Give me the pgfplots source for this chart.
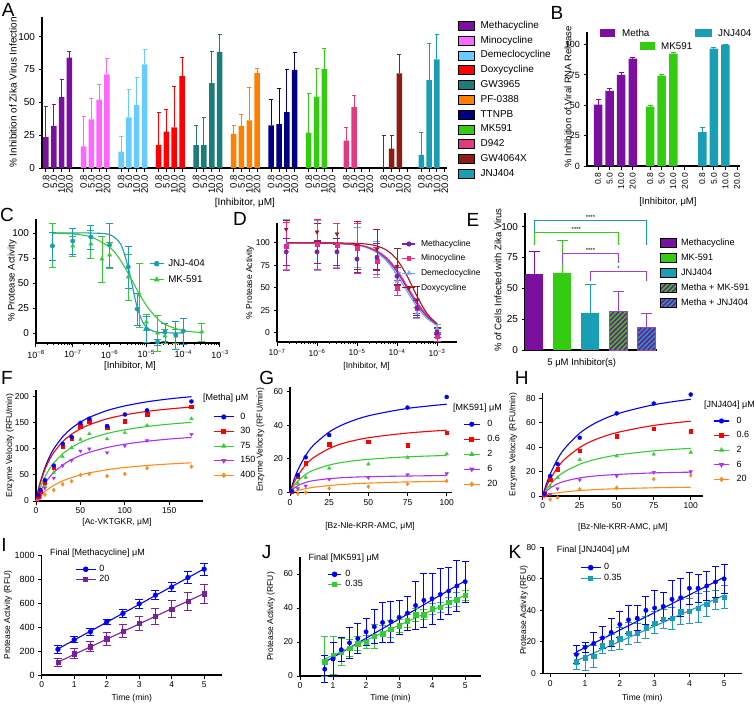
\documentclass[border=0pt]{standalone}
\usepackage{pgfplots}
\pgfplotsset{compat=1.18}
\usepackage{fontspec}
\setmainfont{Liberation Sans}
\usetikzlibrary{patterns.meta}

\definecolor{cMeth}{HTML}{7B0F9F}
\definecolor{cMino}{HTML}{FF66FF}
\definecolor{cDeme}{HTML}{66CCFF}
\definecolor{cDoxy}{HTML}{FF0000}
\definecolor{cGW}{HTML}{1B7C7C}
\definecolor{cPF}{HTML}{FF8000}
\definecolor{cTT}{HTML}{000080}
\definecolor{cMK}{HTML}{33CC11}
\definecolor{cDN}{HTML}{E23A7E}
\definecolor{cGX}{HTML}{8E1B14}
\definecolor{cJNJ}{HTML}{1A9EB5}
\definecolor{dMeth}{HTML}{7D22A8}
\definecolor{dMino}{HTML}{F0288C}
\definecolor{dDeme}{HTML}{66AAFF}
\definecolor{dDoxy}{HTML}{A8151B}
\definecolor{cMKc}{HTML}{33CC33}
\definecolor{fB}{HTML}{0000FF}
\definecolor{fR}{HTML}{FF0000}
\definecolor{fG}{HTML}{33CC33}
\definecolor{fP}{HTML}{B030F0}
\definecolor{fO}{HTML}{FF8C1A}
\definecolor{iP}{HTML}{7A1FA0}
\definecolor{hB}{HTML}{A040D0}

\newcommand\fs[1]{\fontsize{#1}{#1}\selectfont}
\newcommand\tf{\fontsize{8.5}{9}\selectfont}
\newcommand\lf{\fontsize{8.5}{10}\selectfont}
\newcommand\gf{\fontsize{10}{11}\selectfont}
\newcommand\pf{\fontsize{19}{20}\selectfont}

\pgfplotsset{
  gp/.style={scale only axis, axis lines=left, axis line style={-,line width=1.1pt},
    tick align=outside, major tick length=3.5pt, minor tick length=2pt,
    every tick/.append style={line width=1pt, black},
    tick label style={font=\tf},
    /pgf/number format/assume math mode=true,
    /pgf/number format/1000 sep={},
    enlargelimits=false, clip=false,
    label style={font=\lf},
    xlabel style={anchor=center}, ylabel style={anchor=center},
    legend style={draw=none, fill=none, inner sep=0pt, font=\lf,
      nodes={inner sep=0pt, text height=6pt, text depth=1.5pt}},
    legend cell align=left},
  barleg/.style 2 args={legend image code/.code={\path[##1] (0pt,-#2/2) rectangle (#1,#2/2);}},
  ll/.style={legend image code/.code={\draw[##1,mark repeat=2,mark phase=2] plot coordinates {(0pt,0pt) (#1/2,0pt) (#1,0pt)};}},
  abar/.style={ybar, bar width=5.5pt, bar shift=0pt, fill=#1, draw=none, forget plot,
    error bars/.cd, y dir=plus, y explicit, error bar style={#1, line width=1pt},
    error mark options={rotate=90, #1, mark size=2pt, line width=1pt}},
  bbar/.style={ybar, bar width=8.5pt, bar shift=0pt, fill=#1, draw=none, forget plot,
    error bars/.cd, y dir=plus, y explicit, error bar style={#1, line width=1pt},
    error mark options={rotate=90, #1, mark size=2.5pt, line width=1pt}},
  sc/.style 2 args={only marks, color=#1, forget plot, error bars/.cd, y dir=both, y explicit,
    error bar style={#1, line width=0.9pt},
    error mark options={rotate=90, #1, mark size=#2, line width=0.9pt}},
  cv/.style={color=#1, line width=1.1pt, smooth, no markers, forget plot},
}

\begin{document}
\begin{tikzpicture}
\useasboundingbox (0pt,0pt) rectangle (754pt,-707pt);

% ---------------- A ----------------
\begin{axis}[gp, at={(42pt,-168pt)}, anchor=south west, width=405pt, height=151pt,
  xmin=-0.51, xmax=51.28, ymin=0, ymax=115, ytick={0,25,50,75,100},
  xtick={0,1,2,3,4.8,5.8,6.8,7.8,9.6,10.6,11.6,12.6,14.4,15.4,16.4,17.4,19.2,20.2,21.2,22.2,24,25,26,27,28.8,29.8,30.8,31.8,33.6,34.6,35.6,36.6,38.4,39.4,40.4,41.4,43.2,44.2,45.2,46.2,48,49,50,51},
  xticklabels={0.8,5.0,10.0,20.0,0.8,5.0,10.0,20.0,0.8,5.0,10.0,20.0,0.8,5.0,10.0,20.0,0.8,5.0,10.0,20.0,0.8,5.0,10.0,20.0,0.8,5.0,10.0,20.0,0.8,5.0,10.0,20.0,0.8,5.0,10.0,20.0,0.8,5.0,10.0,20.0,0.8,5.0,10.0,20.0},
  yticklabel style={font=\fs{10}},
  xticklabel style={rotate=90, anchor=east, font=\fs{9.5}},
  label style={font=\fs{10}},
  ylabel={\% Inhibition of Zika Virus Infection}, ylabel style={at={(axis description cs:-0.0716,0.5)}},
  xlabel={[Inhibitor, μM]}, xlabel style={at={(axis description cs:0.501,-0.232)}},
  legend style={at={(axis description cs:1.0272,0.9755)}, anchor=north west, font=\gf, row sep=5.4pt,
    nodes={text height=7.3pt, text depth=2pt}, /tikz/every odd column/.append style={column sep=6pt}},
]
\addplot[abar=cMeth] coordinates {(0,23.5) +- (0,23.5) (1,32) +- (0,16) (2,54) +- (0,13.5) (3,84) +- (0,4.5)};
\addplot[abar=cMino] coordinates {(4.8,16.5) +- (0,23) (5.8,37) +- (0,15.7) (6.8,52) +- (0,11.8) (7.8,71.4) +- (0,11.9)};
\addplot[abar=cDeme] coordinates {(9.6,12.4) +- (0,11.6) (10.6,38.5) +- (0,21) (11.6,48) +- (0,21) (12.6,79) +- (0,11.4)};
\addplot[abar=cDoxy] coordinates {(14.4,17.5) +- (0,24.5) (15.4,27.8) +- (0,16.8) (16.4,31) +- (0,30.8) (17.4,70) +- (0,13.8)};
\addplot[abar=cGW] coordinates {(19.2,17.5) +- (0,15.2) (20.2,17.5) +- (0,21.2) (21.2,64.6) +- (0,24) (22.2,88.4) +- (0,13.4)};
\addplot[abar=cPF] coordinates {(24,26) +- (0,6.7) (25,32) +- (0,8.8) (26,36.2) +- (0,25.3) (27,72.4) +- (0,3.6)};
\addplot[abar=cTT] coordinates {(28.8,32.4) +- (0,19.6) (29.8,33.4) +- (0,27.1) (30.8,42.5) +- (0,32.2) (31.8,74.7) +- (0,13.3)};
\addplot[abar=cMK] coordinates {(33.6,27) +- (0,30) (34.6,54.4) +- (0,21.1) (35.6,75.4) +- (0,15.6)};
\addplot[abar=cDN] coordinates {(38.4,20.8) +- (0,10.2) (39.4,46.3) +- (0,9.1)};
\addplot[abar=cGX] coordinates {(43.2,0) +- (0,24.5) (44.2,14.7) +- (0,9.8) (45.2,72) +- (0,14.6)};
\addplot[abar=cJNJ] coordinates {(48,10) +- (0,17.3) (49,67) +- (0,28) (50,82.8) +- (0,19.2)};
\addlegendimage{barleg={16pt}{9pt}, fill=cMeth}\addlegendentry{Methacycline}
\addlegendimage{barleg={16pt}{9pt}, fill=cMino}\addlegendentry{Minocycline}
\addlegendimage{barleg={16pt}{9pt}, fill=cDeme}\addlegendentry{Demeclocycline}
\addlegendimage{barleg={16pt}{9pt}, fill=cDoxy}\addlegendentry{Doxycycline}
\addlegendimage{barleg={16pt}{9pt}, fill=cGW}\addlegendentry{GW3965}
\addlegendimage{barleg={16pt}{9pt}, fill=cPF}\addlegendentry{PF-0388}
\addlegendimage{barleg={16pt}{9pt}, fill=cTT}\addlegendentry{TTNPB}
\addlegendimage{barleg={16pt}{9pt}, fill=cMK}\addlegendentry{MK591}
\addlegendimage{barleg={16pt}{9pt}, fill=cDN}\addlegendentry{D942}
\addlegendimage{barleg={16pt}{9pt}, fill=cGX}\addlegendentry{GW4064X}
\addlegendimage{barleg={16pt}{9pt}, fill=cJNJ}\addlegendentry{JNJ404}
\end{axis}

% ---------------- B ----------------
\begin{axis}[gp, at={(587pt,-166pt)}, anchor=south west, width=153pt, height=134pt,
  xmin=-0.95, xmax=12.26, ymin=0, ymax=110.4, ytick={0,25,50,75,100},
  xtick={0,1,2,3,4.5,5.5,6.5,7.5,9,10,11,12},
  xticklabels={0.8,5.0,10.0,20.0,0.8,5.0,10.0,20.0,0.8,5.0,10.0,20.0},
  yticklabel style={font=\fs{9}},
  xticklabel style={rotate=90, anchor=east, font=\fs{8.5}},
  label style={font=\fs{9.5}},
  ylabel={\% Inhibition of Viral RNA Release}, ylabel style={at={(axis description cs:-0.124,0.515)}},
  xlabel={[Inhibitor, μM]}, xlabel style={at={(axis description cs:0.529,-0.266)}},
]
\addplot[bbar=cMeth] coordinates {(0,50.5) +- (0,4.2) (1,61.8) +- (0,1.9) (2,75) +- (0,2.2) (3,88.5) +- (0,0.8)};
\addplot[bbar=cMK] coordinates {(4.5,49) +- (0,0.5) (5.5,74.5) +- (0,1) (6.5,92.6) +- (0,0.8)};
\addplot[bbar=cJNJ] coordinates {(9,28) +- (0,4) (10,96.7) +- (0,0.8) (11,100) +- (0,0.5)};
\end{axis}
\node[anchor=base west, font=\fs{9.8}, inner sep=0pt] at (600pt,-36pt) {\textcolor{cMeth}{\rule[-0.5pt]{15pt}{8pt}}\hspace{7pt}Metha};
\node[anchor=base west, font=\fs{9.8}, inner sep=0pt] at (640pt,-49.5pt) {\textcolor{cMK}{\rule[-0.5pt]{15pt}{8pt}}\hspace{6pt}MK591};
\node[anchor=base west, font=\fs{9.8}, inner sep=0pt] at (695pt,-36.5pt) {\textcolor{cJNJ}{\rule[-0.5pt]{17pt}{8pt}}\hspace{6pt}JNJ404};

% ---------------- C ----------------
\begin{axis}[gp, at={(36pt,-343pt)}, anchor=south west, width=184pt, height=124pt,
  xmode=log, xmin=1e-8, xmax=1e-3, ymin=-10, ymax=114, ytick={0,25,50,75,100},
  xtick={1e-8,1e-7,1e-6,1e-5,1e-4,1e-3},
  xticklabels={10\textsuperscript{−8},10\textsuperscript{−7},10\textsuperscript{−6},10\textsuperscript{−5},10\textsuperscript{−4},10\textsuperscript{−3}},
  yticklabel style={font=\fs{10}}, xticklabel style={font=\fs{9}},
  label style={font=\fs{9.5}},
  ylabel={\% Protease Activity}, ylabel style={at={(axis description cs:-0.13,0.5)}},
  xlabel={[Inhibitor, M]}, xlabel style={at={(axis description cs:0.511,-0.185)}},
  legend style={at={(axis description cs:0.614,0.677)}, anchor=north west, row sep=7.1pt, font=\fs{9.8},
    nodes={text height=7pt, text depth=1.9pt},
    /tikz/every odd column/.append style={column sep=4pt}},
]
\addplot[cv=cJNJ] coordinates {(2.8e-8,100) (1e-7,100) (3e-7,100) (1e-6,98.4) (2e-6,88.8) (3.16e-6,66.6) (4e-6,50) (5e-6,33) (6.3e-6,20) (7.9e-6,11.2) (1e-5,5.9) (1.6e-5,1.6) (3.16e-5,0.2) (1e-4,0)};
\addplot[cv=cMKc] coordinates {(2.8e-8,99.7) (1e-7,99) (3.16e-7,96) (1e-6,85.8) (1.8e-6,75) (3.16e-6,60) (5.6e-6,43) (1e-5,27.5) (1.8e-5,16) (3.16e-5,8.7) (1e-4,2.3) (3.16e-4,0.6)};
\addplot[mark=triangle*, mark size=2.4pt, sc={cMKc}{3.5pt}] coordinates {(2.8e-8,88) +- (0,22) (1e-7,87) +- (0,10) (3.1e-7,89) +- (0,14) (6.2e-7,74) +- (0,23) (1e-6,78) +- (0,13) (3.2e-6,56) +- (0,23) (6.3e-6,38) +- (0,32) (1e-5,11) +- (0,8) (2e-5,0) +- (0,18) (3.2e-5,-3) +- (0,7) (6.3e-5,-3) +- (0,7) (3.2e-4,1) +- (0,9)};
\addplot[mark=*, mark size=2.2pt, sc={cJNJ}{3.5pt}] coordinates {(2.8e-8,87) +- (0,14) (1e-7,92) +- (0,13) (3.1e-7,96) +- (0,12) (1e-6,88) +- (0,22) (3.2e-6,66) +- (0,21) (5.6e-6,24) +- (0,16) (1e-5,4) +- (0,13) (2e-5,-9) +- (0,3) (3.2e-5,1) +- (0,9) (6.3e-5,-2) +- (0,14) (1e-4,2) +- (0,13)};
\addlegendimage{ll=14pt, color=cJNJ, mark=*, mark size=2.2pt, line width=1.1pt}\addlegendentry{JNJ-404}
\addlegendimage{ll=14pt, color=cMKc, mark=triangle*, mark size=2.4pt, line width=1.1pt}\addlegendentry{MK-591}
\end{axis}

% ---------------- D ----------------
\begin{axis}[gp, at={(277pt,-342pt)}, anchor=south west, width=180pt, height=119pt,
  xmode=log, xmin=1e-7, xmax=3.162e-3, ymin=-10, ymax=122, ytick={0,25,50,75,100},
  xtick={1e-7,1e-6,1e-5,1e-4,1e-3},
  xticklabels={10\textsuperscript{−7},10\textsuperscript{−6},10\textsuperscript{−5},10\textsuperscript{−4},10\textsuperscript{−3}},
  ylabel={\% Protease Activity}, ylabel style={at={(axis description cs:-0.15,0.5)}},
  xlabel={[Inhibitor, M]}, xlabel style={at={(axis description cs:0.498,-0.2)}},
  legend style={at={(axis description cs:0.693,0.857)}, anchor=north west, row sep=7.1pt,
    /tikz/every odd column/.append style={column sep=5pt}},
]
\addplot[cv=dDeme] coordinates {(1.78e-7,100) (1e-6,99.9) (3.16e-6,99.4) (1e-5,97.3) (1.78e-5,94.5) (3.16e-5,89) (5.62e-5,79.4) (1e-4,64.5) (1.78e-4,46.3) (3.16e-4,29) (5.62e-4,16.2) (1e-3,8.4)};
\addplot[cv=dMeth] coordinates {(1.78e-7,100) (1e-6,99.9) (3.16e-6,99.5) (1e-5,97.7) (1.78e-5,95.3) (3.16e-5,90.4) (5.62e-5,81.7) (1e-4,67.9) (1.78e-4,50) (3.16e-4,32.1) (5.62e-4,18.3) (1e-3,9.6)};
\addplot[cv=dMino] coordinates {(1.78e-7,100) (1e-6,99.9) (3.16e-6,99.5) (1e-5,97.9) (1.78e-5,95.6) (3.16e-5,91.1) (5.62e-5,83) (1e-4,70) (1.78e-4,52.2) (3.16e-4,34.2) (5.62e-4,19.7) (1e-3,10.5)};
\addplot[cv=dDoxy] coordinates {(1.78e-7,100) (1e-6,100) (3.16e-6,99.9) (1e-5,99.4) (1.78e-5,98.6) (3.16e-5,96.5) (5.62e-5,91.6) (1e-4,81.4) (1.78e-4,63.5) (3.16e-4,40.9) (5.62e-4,21.6) (1e-3,9.9)};
\addplot[mark=triangle*, mark size=2.2pt, sc={dDeme}{3.5pt}] coordinates {(1.7e-7,98) +- (0,28) (1e-6,97) +- (0,28) (3.16e-6,97) +- (0,24) (1e-5,95) +- (0,22) (3.16e-5,82) +- (0,20) (1e-4,57) +- (0,10) (3.16e-4,22) +- (0,6) (1e-3,5) +- (0,5)};
\addplot[mark=triangle*, mark size=2.2pt, mark options={rotate=180}, sc={dDoxy}{3.5pt}] coordinates {(1.7e-7,115) +- (0,10) (1e-6,112) +- (0,10) (3.16e-6,110) +- (0,12) (1e-5,97) +- (0,27) (3.16e-5,93) +- (0,22) (1e-4,74) +- (0,20) (3.16e-4,37) +- (0,15) (1e-3,2) +- (0,4)};
\addplot[mark=square*, mark size=2pt, sc={dMino}{3.5pt}] coordinates {(1.7e-7,96) +- (0,27) (1e-6,98) +- (0,28) (3.16e-6,97) +- (0,25) (1e-5,94) +- (0,28) (3.16e-5,80) +- (0,15) (1e-4,50) +- (0,8) (3.16e-4,27) +- (0,10) (1e-3,-4) +- (0,5)};
\addplot[mark=*, mark size=2.2pt, sc={dMeth}{3.5pt}] coordinates {(1.7e-7,90) +- (0,15) (1e-6,90) +- (0,13) (3.16e-6,90) +- (0,15) (1e-5,82) +- (0,15) (3.16e-5,84) +- (0,15) (1e-4,63) +- (0,10) (3.16e-4,28) +- (0,8) (1e-3,0) +- (0,5)};
\addlegendimage{ll=13pt, color=dMeth, mark=*, mark size=2pt, line width=1.1pt}\addlegendentry{Methacycline}
\addlegendimage{ll=13pt, color=dMino, mark=square*, mark size=1.8pt, line width=1.1pt}\addlegendentry{Minocycline}
\addlegendimage{ll=13pt, color=dDeme, mark=triangle*, mark size=2pt, line width=1.1pt}\addlegendentry{Demeclocycline}
\addlegendimage{ll=13pt, color=dDoxy, mark=triangle*, mark size=2pt, mark options={rotate=180}, line width=1.1pt}\addlegendentry{Doxycycline}
\end{axis}

% ---------------- E ----------------
\begin{axis}[gp, at={(525pt,-350pt)}, anchor=south west, width=132pt, height=137pt,
  xmin=0.67, xmax=5.37, ymin=0, ymax=111, ytick={0,25,50,75,100}, xtick=\empty,
  yticklabel style={font=\fs{10}}, label style={font=\fs{9.5}},
  ylabel={\% of Cells Infected with Zika Virus}, ylabel style={at={(axis description cs:-0.205,0.51)}},
  xlabel={5 μM Inhibitor(s)}, xlabel style={at={(axis description cs:0.43,-0.093)}},
  legend style={at={(axis description cs:1.022,0.817)}, anchor=north west, font=\fs{9.2}, row sep=5.6pt,
    nodes={text height=7pt, text depth=2pt}, /tikz/every odd column/.append style={column sep=4.5pt}},
]
\addplot[ybar, bar width=18pt, bar shift=0pt, fill=cMeth, draw=none, forget plot,
  error bars/.cd, y dir=plus, y explicit, error bar style={cMeth, line width=1pt},
  error mark options={rotate=90, cMeth, mark size=5.5pt, line width=1pt}] coordinates {(1,61.5) +- (0,18.5)};
\addplot[ybar, bar width=18pt, bar shift=0pt, fill=cMK, draw=none, forget plot,
  error bars/.cd, y dir=plus, y explicit, error bar style={cMK, line width=1pt},
  error mark options={rotate=90, cMK, mark size=5.5pt, line width=1pt}] coordinates {(2,62) +- (0,26.5)};
\addplot[ybar, bar width=18pt, bar shift=0pt, fill=cJNJ, draw=none, forget plot,
  error bars/.cd, y dir=plus, y explicit, error bar style={cJNJ, line width=1pt},
  error mark options={rotate=90, cJNJ, mark size=5.5pt, line width=1pt}] coordinates {(3,30) +- (0,23)};
\addplot[ybar, bar width=18pt, bar shift=0pt, fill=cMeth, draw=hB, line width=1pt,
  postaction={pattern={Lines[angle=45,distance=3.4pt,line width=1.6pt]}, pattern color=cMK}, forget plot,
  error bars/.cd, y dir=plus, y explicit, error bar style={hB, line width=1pt},
  error mark options={rotate=90, hB, mark size=5.5pt, line width=1pt}] coordinates {(4,31) +- (0,16)};
\addplot[ybar, bar width=18pt, bar shift=0pt, fill=cMeth, draw=hB, line width=1pt,
  postaction={pattern={Lines[angle=45,distance=3.4pt,line width=1.6pt]}, pattern color=cJNJ}, forget plot,
  error bars/.cd, y dir=plus, y explicit, error bar style={hB, line width=1pt},
  error mark options={rotate=90, hB, mark size=5.5pt, line width=1pt}] coordinates {(5,18) +- (0,11.5)};
\addplot[cJNJ, line width=1.2pt, forget plot] coordinates {(1,85.2) (1,104.9) (5,104.9) (5,85.2)};
\addplot[cMK, line width=1.2pt, forget plot] coordinates {(1,85.2) (1,95.1) (4,95.1) (4,85.2)};
\addplot[hB, line width=1.2pt, forget plot] coordinates {(2,70.8) (2,78.4) (4,78.4) (4,70.8)};
\addplot[hB, line width=1.2pt, forget plot] coordinates {(3,56.2) (3,63.3) (5,63.3) (5,56.2)};
\node[font=\fontsize{6}{6}\selectfont, anchor=south, inner sep=1pt] at (axis cs:3,104.9) {****};
\node[font=\fontsize{6}{6}\selectfont, anchor=south, inner sep=1pt] at (axis cs:2.5,95.1) {****};
\node[font=\fontsize{6}{6}\selectfont, anchor=south, inner sep=1pt] at (axis cs:3,78.4) {****};
\node[font=\fontsize{6}{6}\selectfont, anchor=south, inner sep=1pt] at (axis cs:4,63.3) {*};
\addlegendimage{barleg={16pt}{9pt}, fill=cMeth}\addlegendentry{Methacycline}
\addlegendimage{barleg={16pt}{9pt}, fill=cMK}\addlegendentry{MK-591}
\addlegendimage{barleg={16pt}{9pt}, fill=cJNJ}\addlegendentry{JNJ404}
\addlegendimage{barleg={16pt}{9pt}, fill=cMeth, postaction={pattern={Lines[angle=45,distance=3.4pt,line width=1.6pt]}, pattern color=cMK}}\addlegendentry{Metha + MK-591}
\addlegendimage{barleg={16pt}{9pt}, fill=cMeth, postaction={pattern={Lines[angle=45,distance=3.4pt,line width=1.6pt]}, pattern color=cJNJ}}\addlegendentry{Metha + JNJ404}
\end{axis}

% ---------------- F ----------------
\begin{axis}[gp, at={(36pt,-501pt)}, anchor=south west, width=167pt, height=111pt,
  xmin=0, xmax=188, ymin=0, ymax=213, ytick={0,50,100,150,200}, xtick={0,50,100,150},
  ylabel={Enzyme Velocity (RFU/min)}, ylabel style={at={(axis description cs:-0.156,0.5)}},
  xlabel={[Ac-VKTGKR, μM]}, xlabel style={at={(axis description cs:0.485,-0.195)}},
  legend style={at={(axis description cs:1.06,0.793)}, anchor=north west, row sep=7.1pt, font=\fs{9},
    /tikz/every odd column/.append style={column sep=6pt}},
]
\addplot[cv=fB] coordinates {(0,0) (2.5,20.2) (5,37.1) (10,63.9) (15,84.1) (20,100) (30,123.2) (40,139.4) (50,151.3) (60,160.5) (80,173.6) (100,182.5) (125,190.4) (150,196) (175,200.2)};
\addplot[cv=fR] coordinates {(0,0) (2.5,19.3) (5,35.3) (10,60.3) (15,78.8) (20,93.2) (30,113.9) (40,128.1) (50,138.5) (60,146.4) (80,157.7) (100,165.3) (125,172) (150,176.7) (175,180.3)};
\addplot[cv=fG] coordinates {(0,0) (2.5,14.3) (5,26.5) (10,46.1) (15,61) (20,72.9) (30,90.5) (40,102.9) (50,112.2) (60,119.3) (80,129.6) (100,136.7) (125,143) (150,147.5) (175,150.9)};
\addplot[cv=fP] coordinates {(0,0) (2.5,10.2) (5,19.1) (10,33.7) (15,45.3) (20,54.7) (30,69) (40,79.5) (50,87.3) (60,93.5) (80,102.7) (100,109) (125,114.7) (150,118.9) (175,122)};
\addplot[cv=fO] coordinates {(0,0) (2.5,5.3) (5,10) (10,18) (15,24.5) (20,30) (30,38.6) (40,45) (50,50) (60,54) (80,60) (100,64.3) (125,68.2) (150,71.1) (175,73.3)};
\addplot[only marks, mark=diamond*, mark size=2pt, color=fO, forget plot] coordinates {(2.5,3) (5,7) (10,12) (20,21) (30,32) (40,38) (50,50) (60,52) (80,48) (100,52) (125,63) (175,66)};
\addplot[only marks, mark=triangle*, mark options={rotate=180}, mark size=2pt, color=fP, forget plot] coordinates {(2.5,5) (5,10) (10,25) (20,44) (30,68) (40,78) (50,96) (60,100) (80,93) (100,106) (125,116) (175,128)};
\addplot[only marks, mark=triangle*, mark size=2pt, color=fG, forget plot] coordinates {(2.5,7) (5,14) (10,30) (20,55) (30,85) (40,102) (50,118) (60,129) (80,119) (100,131) (125,145) (175,158)};
\addplot[only marks, mark=square*, mark size=1.8pt, color=fR, forget plot] coordinates {(2.5,9) (5,18) (10,35) (20,65) (30,105) (40,120) (50,143) (60,153) (80,141) (100,153) (125,167) (175,181)};
\addplot[only marks, mark=*, mark size=2pt, color=fB, forget plot] coordinates {(2.5,11) (5,21) (10,40) (20,68) (30,110) (40,123) (50,150) (60,158) (80,144) (100,166) (125,174) (175,191)};
\addlegendimage{ll=20pt, color=fB, mark=*, mark size=2pt, line width=1.1pt}\addlegendentry{0}
\addlegendimage{ll=20pt, color=fR, mark=square*, mark size=1.8pt, line width=1.1pt}\addlegendentry{30}
\addlegendimage{ll=20pt, color=fG, mark=triangle*, mark size=2pt, line width=1.1pt}\addlegendentry{75}
\addlegendimage{ll=20pt, color=fP, mark=triangle*, mark options={rotate=180}, mark size=2pt, line width=1.1pt}\addlegendentry{150}
\addlegendimage{ll=20pt, color=fO, mark=diamond*, mark size=2pt, line width=1.1pt}\addlegendentry{400}
\end{axis}
\node[anchor=west, font=\fs{9}, inner sep=0pt] at (203pt,-398pt) {[Metha] μM};

% ---------------- G ----------------
\begin{axis}[gp, at={(290pt,-492.7pt)}, anchor=south west, width=162pt, height=105.7pt,
  xmin=0, xmax=103.4, ymin=0, ymax=62.7, ytick={0,20,40,60}, xtick={0,25,50,75,100},
  ylabel={Enzyme Velocity (RFU/min)}, ylabel style={at={(axis description cs:-0.183,0.5)}},
  xlabel={[Bz-Nle-KRR-AMC, μM]}, xlabel style={at={(axis description cs:0.494,-0.315)}},
  legend style={at={(axis description cs:1.068,0.685)}, anchor=north west, row sep=7.5pt, font=\fs{9},
    /tikz/every odd column/.append style={column sep=7pt}},
]
\addplot[cv=fB] coordinates {(0,0) (1,3.3) (2.5,7.6) (5,13.5) (10,22.1) (15,28.2) (25,36) (35,40.9) (50,45.6) (75,50) (100,52.5)};
\addplot[cv=fR] coordinates {(0,0) (1,2.5) (2.5,5.8) (5,10.2) (10,16.5) (15,20.8) (25,26.2) (35,29.6) (50,32.6) (75,35.4) (100,37.1)};
\addplot[cv=fG] coordinates {(0,0) (1,1.8) (2.5,4) (5,6.9) (10,10.9) (15,13.4) (25,16.4) (35,18.2) (50,19.8) (75,21.3) (100,22.1)};
\addplot[cv=fP] coordinates {(0,0) (1,1.2) (2.5,2.6) (5,4.2) (10,6.1) (15,7.2) (25,8.3) (35,9) (50,9.5) (75,9.9) (100,10.2)};
\addplot[cv=fO] coordinates {(0,0) (1,0.3) (2.5,0.8) (5,1.4) (10,2.4) (15,3.2) (25,4.25) (35,5) (50,5.7) (75,6.4) (100,6.8)};
\addplot[only marks, mark=diamond*, mark size=2pt, color=fO, forget plot] coordinates {(1,0) (5,-0.5) (10,0.2) (25,2.6) (50,3.6) (75,5.2) (100,7)};
\addplot[only marks, mark=triangle*, mark options={rotate=180}, mark size=2pt, color=fP, forget plot] coordinates {(1,0.2) (5,2.5) (10,4) (25,8) (50,9) (75,10.8) (100,11.3)};
\addplot[only marks, mark=triangle*, mark size=2pt, color=fG, forget plot] coordinates {(1,0.3) (5,5.5) (10,9.1) (25,14.5) (50,17) (75,20.8) (100,23)};
\addplot[only marks, mark=square*, mark size=1.8pt, color=fR, forget plot] coordinates {(1,0.5) (5,9.5) (10,17.4) (25,28.7) (50,30.3) (75,28.2) (100,35.7)};
\addplot[only marks, mark=*, mark size=2pt, color=fB, forget plot] coordinates {(1,1) (5,10.5) (10,21) (25,34.2) (75,50.5) (100,56.8)};
\addlegendimage{ll=16pt, color=fB, mark=*, mark size=2pt, line width=1.1pt}\addlegendentry{0}
\addlegendimage{ll=16pt, color=fR, mark=square*, mark size=1.8pt, line width=1.1pt}\addlegendentry{0.6}
\addlegendimage{ll=16pt, color=fG, mark=triangle*, mark size=2pt, line width=1.1pt}\addlegendentry{2}
\addlegendimage{ll=16pt, color=fP, mark=triangle*, mark options={rotate=180}, mark size=2pt, line width=1.1pt}\addlegendentry{6}
\addlegendimage{ll=16pt, color=fO, mark=diamond*, mark size=2pt, line width=1.1pt}\addlegendentry{20}
\end{axis}
\node[anchor=west, font=\fs{9}, inner sep=0pt] at (453pt,-408.3pt) {[MK591] μM};

% ---------------- H ----------------
\begin{axis}[gp, at={(542.7pt,-496pt)}, anchor=south west, width=160.3pt, height=102.7pt,
  xmin=0, xmax=108.3, ymin=0, ymax=84.4, ytick={0,20,40,60,80}, xtick={0,25,50,75,100},
  ylabel={Enzyme Velocity (RFU/min)}, ylabel style={at={(axis description cs:-0.185,0.5)}},
  xlabel={[Bz-Nle-KRR-AMC, μM]}, xlabel style={at={(axis description cs:0.5,-0.3)}},
  legend style={at={(axis description cs:1.064,0.769)}, anchor=north west, row sep=7.1pt, font=\fs{9},
    /tikz/every odd column/.append style={column sep=7pt}},
]
\addplot[cv=fB] coordinates {(0,0) (1,4.2) (2.5,9.9) (5,17.9) (10,30.3) (15,39.3) (25,51.6) (35,59.6) (50,67.4) (75,75) (100,79.5)};
\addplot[cv=fR] coordinates {(0,0) (1,3.3) (2.5,7.7) (5,13.9) (10,23.4) (15,30.4) (25,39.9) (35,46.1) (50,52.1) (75,58) (100,61.5)};
\addplot[cv=fG] coordinates {(0,0) (1,2.2) (2.5,5.2) (5,9.4) (10,15.7) (15,20.1) (25,26.1) (35,29.9) (50,33.6) (75,37.1) (100,39.2)};
\addplot[cv=fP] coordinates {(0,0) (1,1.7) (2.5,3.8) (5,6.5) (10,10) (15,12.2) (25,14.9) (35,16.4) (50,17.7) (75,19) (100,19.6)};
\addplot[cv=fO] coordinates {(0,0) (1,0.35) (2.5,0.8) (5,1.5) (10,2.6) (15,3.4) (25,4.5) (35,5.25) (50,6) (75,6.75) (100,7.2)};
\addplot[only marks, mark=diamond*, mark size=2pt, color=fO, forget plot] coordinates {(1,0) (5,-2.9) (10,-1.3) (25,5.5) (50,6.8) (75,14) (100,17)};
\addplot[only marks, mark=triangle*, mark options={rotate=180}, mark size=2pt, color=fP, forget plot] coordinates {(1,0.5) (5,1.4) (10,6) (25,13.3) (50,16.5) (75,19.4) (100,20)};
\addplot[only marks, mark=triangle*, mark size=2pt, color=fG, forget plot] coordinates {(1,1) (5,8) (10,15.1) (25,29.9) (50,32.9) (75,34.3) (100,35.9)};
\addplot[only marks, mark=square*, mark size=1.8pt, color=fR, forget plot] coordinates {(1,1.5) (5,13.5) (10,22) (25,37.3) (50,49.3) (75,55.4) (100,53.5)};
\addplot[only marks, mark=*, mark size=2pt, color=fB, forget plot] coordinates {(1,2) (5,16.4) (10,26.3) (25,47.9) (50,67.9) (75,76) (100,83.4)};
\addlegendimage{ll=15pt, color=fB, mark=*, mark size=2pt, line width=1.1pt}\addlegendentry{0}
\addlegendimage{ll=15pt, color=fR, mark=square*, mark size=1.8pt, line width=1.1pt}\addlegendentry{0.6}
\addlegendimage{ll=15pt, color=fG, mark=triangle*, mark size=2pt, line width=1.1pt}\addlegendentry{2}
\addlegendimage{ll=15pt, color=fP, mark=triangle*, mark options={rotate=180}, mark size=2pt, line width=1.1pt}\addlegendentry{6}
\addlegendimage{ll=15pt, color=fO, mark=diamond*, mark size=2pt, line width=1.1pt}\addlegendentry{20}
\end{axis}
\node[anchor=west, font=\fs{9}, inner sep=0pt] at (704pt,-405pt) {[JNJ404] μM};

% ---------------- I ----------------
\begin{axis}[gp, at={(41.7pt,-675pt)}, anchor=south west, width=180pt, height=119.6pt,
  xmin=0, xmax=5.54, ymin=0, ymax=1000, ytick={0,200,400,600,800,1000}, xtick={0,1,2,3,4,5},
  yticklabel style={font=\fs{9}},
  ylabel={Protease Activity (RFU)}, ylabel style={at={(axis description cs:-0.187,0.5)}},
  xlabel={Time (min)}, xlabel style={at={(axis description cs:0.5,-0.192)}},
  legend style={at={(axis description cs:0.185,0.917)}, anchor=north west, row sep=2.5pt, font=\fs{9},
    /tikz/every odd column/.append style={column sep=3pt}},
]
\addplot[cv=fB] coordinates {(0.5,218) (5,888)};
\addplot[cv=iP] coordinates {(0.5,108) (5,682)};
\addplot[mark=square*, mark size=2.2pt, sc={iP}{4pt}] coordinates {(0.5,105) +- (0,35) (1,178) +- (0,40) (1.5,238) +- (0,40) (2,305) +- (0,55) (2.5,365) +- (0,55) (3,432) +- (0,60) (3.5,490) +- (0,65) (4,550) +- (0,70) (4.5,618) +- (0,75) (5,680) +- (0,80)};
\addplot[mark=*, mark size=2.4pt, sc={fB}{4pt}] coordinates {(0.5,215) +- (0,35) (1,295) +- (0,25) (1.5,362) +- (0,30) (2,445) +- (0,20) (2.5,515) +- (0,35) (3,595) +- (0,40) (3.5,668) +- (0,40) (4,735) +- (0,40) (4.5,815) +- (0,50) (5,885) +- (0,50)};
\addlegendimage{ll=20pt, color=fB, mark=*, mark size=2.2pt, line width=1.1pt}\addlegendentry{0}
\addlegendimage{ll=20pt, color=iP, mark=square*, mark size=2pt, line width=1.1pt}\addlegendentry{20}
\end{axis}
\node[anchor=west, font=\fs{9}, inner sep=0pt] at (50pt,-553.3pt) {Final [Methacycline] μM};

% ---------------- J ----------------
\begin{axis}[gp, at={(300pt,-676pt)}, anchor=south west, width=181pt, height=119pt,
  xmin=0, xmax=5.48, ymin=0, ymax=70, ytick={0,20,40,60}, xtick={0,1,2,3,4,5},
  ylabel={Protease Activity (RFU)}, ylabel style={at={(axis description cs:-0.16,0.5)}},
  xlabel={Time (min)}, xlabel style={at={(axis description cs:0.5,-0.185)}},
  legend style={at={(axis description cs:0.153,0.888)}, anchor=north west, row sep=2.5pt, font=\fs{9},
    /tikz/every odd column/.append style={column sep=4pt}},
]
\addplot[cv=fB] coordinates {(0.75,8.2) (5,56)};
\addplot[cv=fG] coordinates {(0.75,10) (5,47.5)};
\addplot[mark=square*, mark size=2.2pt, sc={fG}{3.5pt}] coordinates {(0.75,8.5) += (0,15) -= (0,8.5) (1,12) +- (0,11) (1.25,14) +- (0,8) (1.5,16.5) +- (0,5) (1.75,19) +- (0,4) (2,20) +- (0,4) (2.25,23.5) +- (0,7) (2.5,25) +- (0,5) (2.75,27.5) +- (0,5) (3,29.5) +- (0,4) (3.25,32.5) +- (0,4) (3.5,36) +- (0,4) (3.75,36) +- (0,3) (4,39.5) +- (0,3) (4.25,40.5) +- (0,3) (4.5,43.5) +- (0,3) (4.75,45) +- (0,4) (5,47.5) +- (0,3)};
\addplot[mark=*, mark size=2.2pt, sc={fB}{3.5pt}] coordinates {(0.75,4) +- (0,8) (1,10) +- (0,10) (1.25,15.5) +- (0,7) (1.5,19.5) +- (0,9) (1.75,22) +- (0,9) (2,26) +- (0,8) (2.25,29) +- (0,10) (2.5,31.5) +- (0,12) (2.75,32) +- (0,12) (3,34.5) +- (0,10) (3.25,37) +- (0,10) (3.5,41.5) +- (0,14) (3.75,44.5) +- (0,16) (4,45.5) +- (0,15) (4.25,48) +- (0,15) (4.5,50) +- (0,14) (4.75,53) +- (0,15) (5,55.5) +- (0,12)};
\addlegendimage{ll=12.3pt, color=fB, mark=*, mark size=2.2pt, line width=1.1pt}\addlegendentry{0}
\addlegendimage{ll=12.3pt, color=fG, mark=square*, mark size=2pt, line width=1.1pt}\addlegendentry{0.35}
\end{axis}
\node[anchor=west, font=\fs{9}, inner sep=0pt] at (308.3pt,-558.3pt) {Final [MK591] μM};

% ---------------- K ----------------
\begin{axis}[gp, at={(543pt,-673.3pt)}, anchor=south west, width=198.5pt, height=126pt,
  xmin=-0.21, xmax=5.5, ymin=0, ymax=80, ytick={0,20,40,60,80}, xtick={0,1,2,3,4,5},
  ylabel={Protease Activity (RFU)}, ylabel style={at={(axis description cs:-0.096,0.5)}},
  xlabel={Time (min)}, xlabel style={at={(axis description cs:0.5,-0.198)}},
  legend style={at={(axis description cs:0.186,0.87)}, anchor=north west, row sep=3.1pt, font=\fs{9},
    /tikz/every odd column/.append style={column sep=3pt}},
]
\addplot[cv=fB] coordinates {(0.75,13.5) (5,61)};
\addplot[cv=cJNJ] coordinates {(0.75,8) (5,49.5)};
\addplot[mark=square*, mark size=2.2pt, sc={cJNJ}{3.5pt}] coordinates {(0.75,7.5) +- (0,5) (1,10) +- (0,8) (1.25,11) +- (0,7) (1.5,17.5) +- (0,5) (1.75,19.5) +- (0,5) (2,22) +- (0,7) (2.25,25.5) +- (0,7) (2.5,25.5) +- (0,6) (2.75,29) +- (0,7) (3,32) +- (0,7) (3.25,34.5) +- (0,6) (3.5,35) +- (0,7) (3.75,39) +- (0,8) (4,39.5) +- (0,8) (4.25,41.5) +- (0,9) (4.5,44) +- (0,8) (4.75,46.5) +- (0,6) (5,48.5) +- (0,7)};
\addplot[mark=*, mark size=2.2pt, sc={fB}{3.5pt}] coordinates {(0.75,12) +- (0,6) (1,16.5) +- (0,3) (1.25,19) +- (0,7) (1.5,22.5) +- (0,7) (1.75,26) +- (0,9) (2,31) +- (0,8) (2.25,34) +- (0,9) (2.5,35) +- (0,8) (2.75,40) +- (0,9) (3,41.5) +- (0,11) (3.25,42.5) +- (0,9) (3.5,47) +- (0,12) (3.75,48) +- (0,12) (4,54) +- (0,10) (4.25,54) +- (0,9) (4.5,55.5) +- (0,9) (4.75,58) +- (0,10) (5,60) +- (0,9)};
\addlegendimage{ll=20pt, color=fB, mark=*, mark size=2.2pt, line width=1.1pt}\addlegendentry{0}
\addlegendimage{ll=20pt, color=cJNJ, mark=square*, mark size=2pt, line width=1.1pt}\addlegendentry{0.35}
\end{axis}
\node[anchor=west, font=\fs{9}, inner sep=0pt] at (556.7pt,-550pt) {Final [JNJ404] μM};

% panel letters
\node[font=\pf] at (8.3pt,-10pt) {A};
\node[font=\pf] at (557pt,-13pt) {B};
\node[font=\pf] at (7pt,-215pt) {C};
\node[font=\pf] at (240pt,-219pt) {D};
\node[font=\pf] at (473pt,-220pt) {E};
\node[font=\pf] at (7pt,-378pt) {F};
\node[font=\pf] at (266.7pt,-378.3pt) {G};
\node[font=\pf] at (521.7pt,-378.3pt) {H};
\node[font=\pf] at (4pt,-545pt) {I};
\node[font=\pf] at (266.7pt,-551.7pt) {J};
\node[font=\pf] at (515pt,-551.7pt) {K};
\end{tikzpicture}
\end{document}
